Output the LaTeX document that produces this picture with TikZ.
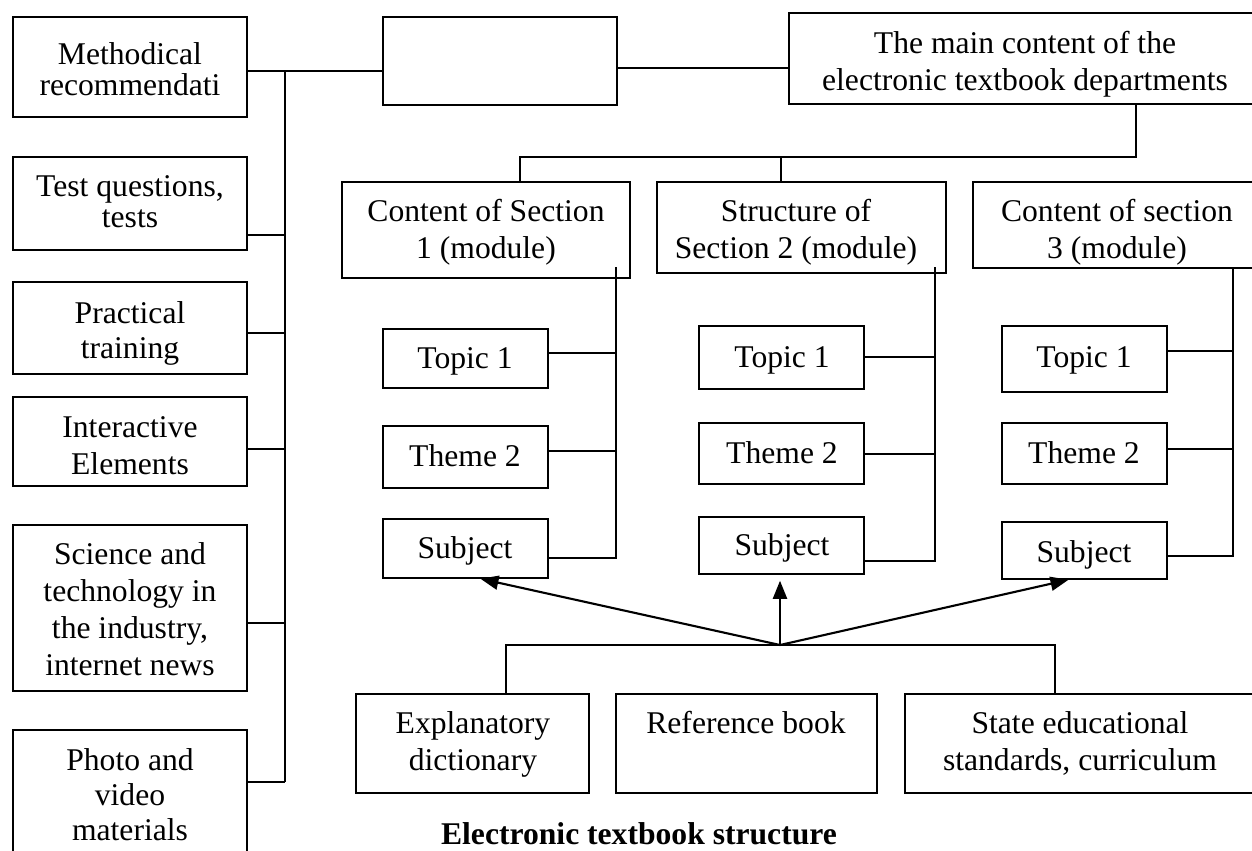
\documentclass[tikz,border=0pt]{standalone}
\usepackage{fontspec}
\setmainfont{Liberation Serif}
\usetikzlibrary{fit,arrows.meta}
\begin{document}
\begin{tikzpicture}[x=0.02cm,y=-0.02cm, line width=0.85pt,
  bx/.style={draw, rectangle, inner sep=0pt, line width=0.85pt},
  lbl/.style={align=center, anchor=base, inner sep=0pt, font=\fontsize{18}{#1}\selectfont},
  lbl/.default=21,
  arr/.style={line width=1.2pt, -{Triangle[length=0.36cm,width=0.28cm]}}]
\useasboundingbox (0,0) rectangle (1252,850);
\clip (0,0) rectangle (1252,850);

% left column
\node[bx, fit={(13,17)(247,117)}] (meth) {};
\node[lbl=17.2] (methT) at (130,95) {Methodical\\recommendati};
\node[bx, fit={(13,157)(247,250)}] (test) {};
\node[lbl=17.2] (testT) at (130,227) {Test questions,\\tests};
\node[bx, fit={(13,282)(247,374)}] (prac) {};
\node[lbl=19.9] (pracT) at (130,358) {Practical\\training};
\node[bx, fit={(13,397)(247,486)}] (inter) {};
\node[lbl=21] (interT) at (130,474) {Interactive\\Elements};
\node[bx, fit={(13,525)(247,691)}] (sci) {};
\node[lbl=20.9] (sciT) at (130,675) {Science and\\technology in\\the industry,\\internet news};
\node[bx, fit={(13,730)(247,870)}] (photo) {};
\node[lbl=19.9] (photoT) at (130,840) {Photo and\\video\\materials};

% top
\node[bx, fit={(383,17)(617,105)}] (empty) {};
\node[bx, fit={(789,13)(1262,104)}] (main) {};
\node[lbl=21] (mainT) at (1025,90) {The main content of the\\electronic textbook departments};

% sections
\node[bx, fit={(342,182)(630,278)}] (s1) {};
\node[lbl=20.5] (s1T) at (486,258) {Content of Section\\1 (module)};
\node[bx, fit={(657,182)(946,273)}] (s2) {};
\node[lbl=20.5] (s2T) at (796,258) {Structure of\\Section 2 (module)};
\node[bx, fit={(973,182)(1262,268)}] (s3) {};
\node[lbl=20.5] (s3T) at (1117,258) {Content of section\\3 (module)};

% topics
\node[bx, fit={(383,329)(548,388)}] (t11) {};
\node[lbl] (t11T) at (465,368) {Topic 1};
\node[bx, fit={(383,426)(548,488)}] (t12) {};
\node[lbl] (t12T) at (465,466) {Theme 2};
\node[bx, fit={(383,519)(548,578)}] (t13) {};
\node[lbl] (t13T) at (465,558) {Subject};

\node[bx, fit={(699,326)(864,389)}] (t21) {};
\node[lbl] (t21T) at (782,367) {Topic 1};
\node[bx, fit={(699,423)(864,484)}] (t22) {};
\node[lbl] (t22T) at (782,463) {Theme 2};
\node[bx, fit={(699,517)(864,574)}] (t23) {};
\node[lbl] (t23T) at (782,555) {Subject};

\node[bx, fit={(1002,326)(1167,392)}] (t31) {};
\node[lbl] (t31T) at (1084,367) {Topic 1};
\node[bx, fit={(1002,423)(1167,484)}] (t32) {};
\node[lbl] (t32T) at (1084,463) {Theme 2};
\node[bx, fit={(1002,522)(1167,579)}] (t33) {};
\node[lbl] (t33T) at (1084,562) {Subject};

% bottom
\node[bx, fit={(356,694)(589,793)}] (expl) {};
\node[lbl=21] (explT) at (473,770) {Explanatory\\dictionary};
\node[bx, fit={(616,694)(877,793)}] (ref) {};
\node[lbl=21] (refT) at (746,733) {Reference book};
\node[bx, fit={(905,694)(1262,793)}] (state) {};
\node[lbl=21] (stateT) at (1080,770) {State educational\\standards, curriculum};

\node[lbl, font=\fontsize{18}{21}\selectfont\bfseries] (title) at (639,844) {Electronic textbook structure};

% left bus
\coordinate (busT) at (285,71);
\coordinate (busB) at (285,782);
\draw (busT) -- (busB);
\draw (meth.east |- busT) -- (empty.west |- busT);
\draw (test.east |- 0,235) -- (busT |- 0,235);
\draw (prac.east |- 0,333) -- (busT |- 0,333);
\draw (inter.east |- 0,449) -- (busT |- 0,449);
\draw (sci.east |- 0,623) -- (busT |- 0,623);
\draw (photo.east |- busB) -- (busB);

% top connections
\draw (empty.east |- 0,68) -- (main.west |- 0,68);
\coordinate (hT) at (1136,157);
\coordinate (d1) at (520,157);
\coordinate (d2) at (781,157);
\draw (main.south -| hT) -- (hT) -- (d1) -- (d1 |- s1.north);
\draw (d2) -- (d2 |- s2.north);

% section buses
\coordinate (b1) at (616,267);
\draw (t11.east |- 0,353) -- (b1 |- 0,353);
\draw (t12.east |- 0,451) -- (b1 |- 0,451);
\draw (t13.east |- 0,558) -| (b1);

\coordinate (b2) at (935,267);
\draw (t21.east |- 0,357) -- (b2 |- 0,357);
\draw (t22.east |- 0,454) -- (b2 |- 0,454);
\draw (t23.east |- 0,561) -| (b2);

\coordinate (b3) at (1233,267);
\draw (t31.east |- 0,351) -- (b3 |- 0,351);
\draw (t32.east |- 0,449) -- (b3 |- 0,449);
\draw (t33.east |- 0,556) -| (b3);

% bottom tree and arrows
\coordinate (hub) at (780,645);
\coordinate (bl) at (506,645);
\coordinate (br) at (1055,645);
\draw (bl |- expl.north) -- (bl) -- (br) -- (br |- state.north);
\draw[arr] (hub) -- ([xshift=0.3cm]t13.south);
\draw[arr] (hub) -- ([yshift=-0.12cm]hub |- t23.south);
\draw[arr] (hub) -- ([xshift=-0.32cm]t33.south);
\end{tikzpicture}
\end{document}
